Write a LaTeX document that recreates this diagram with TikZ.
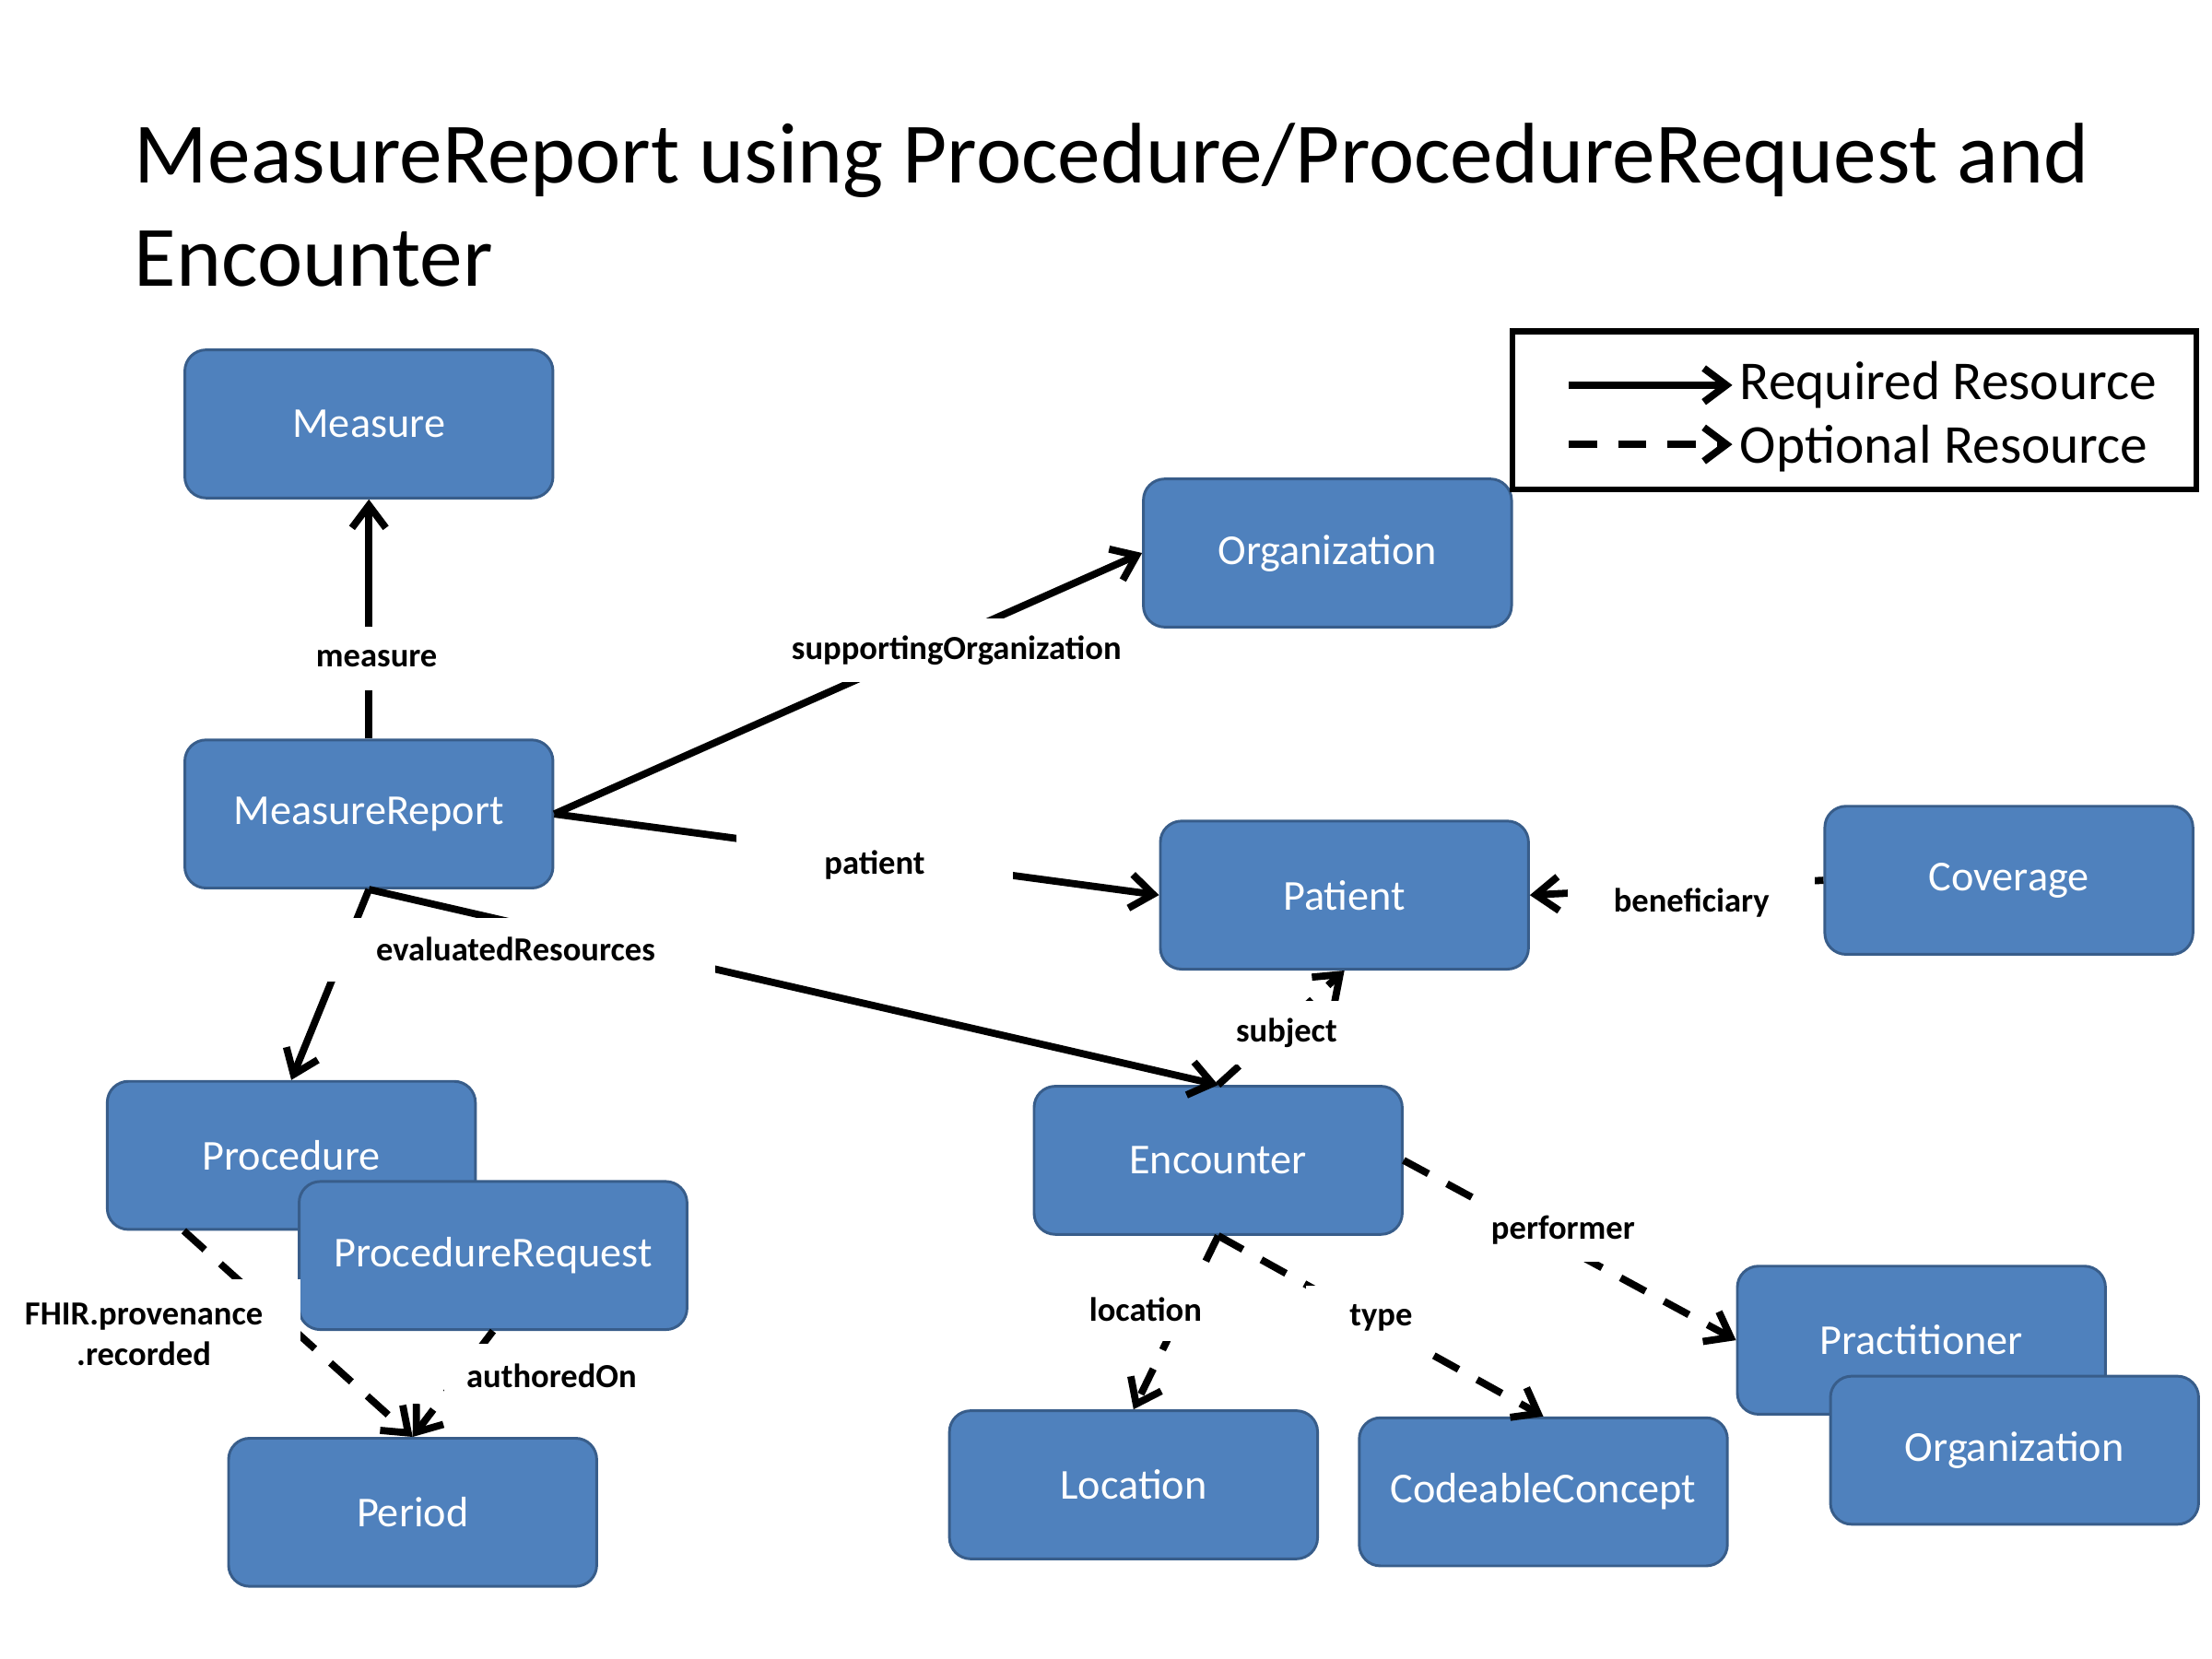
\documentclass[tikz,border=0pt]{standalone}
\usepackage{fontspec}
\setmainfont{Carlito}
\usetikzlibrary{arrows.meta,calc}
\definecolor{boxfill}{HTML}{4F81BD}
\definecolor{boxline}{HTML}{385D8A}
\tikzset{
  res/.style={draw=boxline, fill=boxfill, line width=1.1pt, rounded corners=0.3cm,
    minimum width=5.22cm, minimum height=2.1cm, text=white,
    font=\fontsize{17.2}{20}\selectfont, inner sep=0pt},
  lbl/.style={fill=white, font=\bfseries\fontsize{13.6}{16.4}\selectfont,
    inner sep=2pt, minimum height=0.9cm},
  req/.style={line width=2.9pt, -{Straight Barb[length=0.32cm,width=0.48cm]}},
  opt/.style={req, dash pattern=on 0.4cm off 0.3cm},
}
\begin{document}
\begin{tikzpicture}[x=0.02cm,y=-0.02cm]
\useasboundingbox (0,0) rectangle (1568,1176);
% title
\node[anchor=base west, font=\fontsize{34.7}{41}\selectfont, inner sep=0pt] (t1) at (95,130) {MeasureReport using Procedure/ProcedureRequest and};
\node[anchor=base west, font=\fontsize{34.7}{41}\selectfont, inner sep=0pt] (t2) at (95,203) {Encounter};
% resources
\node[res] (measure) at (261.5,300.5) {Measure};
\node[res] (mr) at (261.5,577) {MeasureReport};
\node[res] (org) at (941,392) {Organization};
\node[res] (patient) at (953,634.5) {Patient};
\node[res] (cov) at (1424,624) {Coverage};
\node[res] (proc) at (206.5,819) {Procedure};
\node[res, minimum width=5.5cm] (pr) at (349.5,890) {ProcedureRequest};
\node[res] (period) at (292.5,1072) {Period};
\node[res] (enc) at (863.5,822.5) {Encounter};
\node[res] (loc) at (803.5,1052.5) {Location};
\node[res] (cc) at (1094,1057.5) {CodeableConcept};
\node[res] (pract) at (1362,950) {Practitioner};
\node[res] (org2) at (1428,1028) {Organization};
% connectors
\draw[req] (mr.north) -- (measure.south);
\draw[req] (mr.east) -- (org.west);
\draw[req] (mr.east) -- (patient.west);
\draw[req] (mr.south) -- (proc.north);
\draw[req] (mr.south) -- (enc.north);
\draw[req] (cov.west) -- (patient.east);
\draw[opt] (enc.north) -- (patient.south);
\draw[opt] (enc.south) -- (loc.north);
\draw[opt] (enc.south) -- (cc.north);
\draw[opt] (enc.east) -- (pract.west);
\draw[opt] ($(proc.south west)!0.21!(proc.south east)$) -- (period.north);
\draw[opt] (pr.south) -- (period.north);
% labels
\node[lbl] (lmeasure) at (267,467) {measure};
\node[lbl] (lsup) at (678,461) {supportingOrganization};
\node[lbl, minimum width=3.92cm] (lpat) at (620,613) {patient};
\node[lbl, minimum width=5.66cm] (leval) at (365.5,673) {evaluatedResources};
\node[lbl, minimum width=3.5cm] (lben) at (1199,640) {beneficiary};
\node[lbl] (lsub) at (912,732) {subject};
\node[lbl] (lloc) at (812,928) {location};
\node[lbl, minimum width=2.12cm] (ltype) at (979,934) {type};
\node[lbl, minimum width=2.56cm] (lperf) at (1108,872) {performer};
\node[lbl, align=center, minimum width=4.44cm, minimum height=1.56cm] (lfhir) at (102,946) {FHIR.provenance\\.recorded};
\node[lbl, minimum width=3.04cm] (lauth) at (391,975) {authoredOn};
% legend
\node[draw, line width=2.4pt, minimum width=9.7cm, minimum height=2.24cm, inner sep=0pt] (legend) at (1314.5,291) {};
\coordinate (rs) at (1112,273);
\coordinate (re) at (1228,273);
\coordinate (os) at (1112,315);
\coordinate (oe) at (1228,315);
\draw[req] (rs) -- (re);
\draw[opt] (os) -- (oe);
\node[anchor=base west, font=\fontsize{22.1}{26}\selectfont, inner sep=0pt] (lreq) at (1233,283) {Required Resource};
\node[anchor=base west, font=\fontsize{22.1}{26}\selectfont, inner sep=0pt] (lopt) at (1233,328) {Optional Resource};
\end{tikzpicture}
\end{document}
